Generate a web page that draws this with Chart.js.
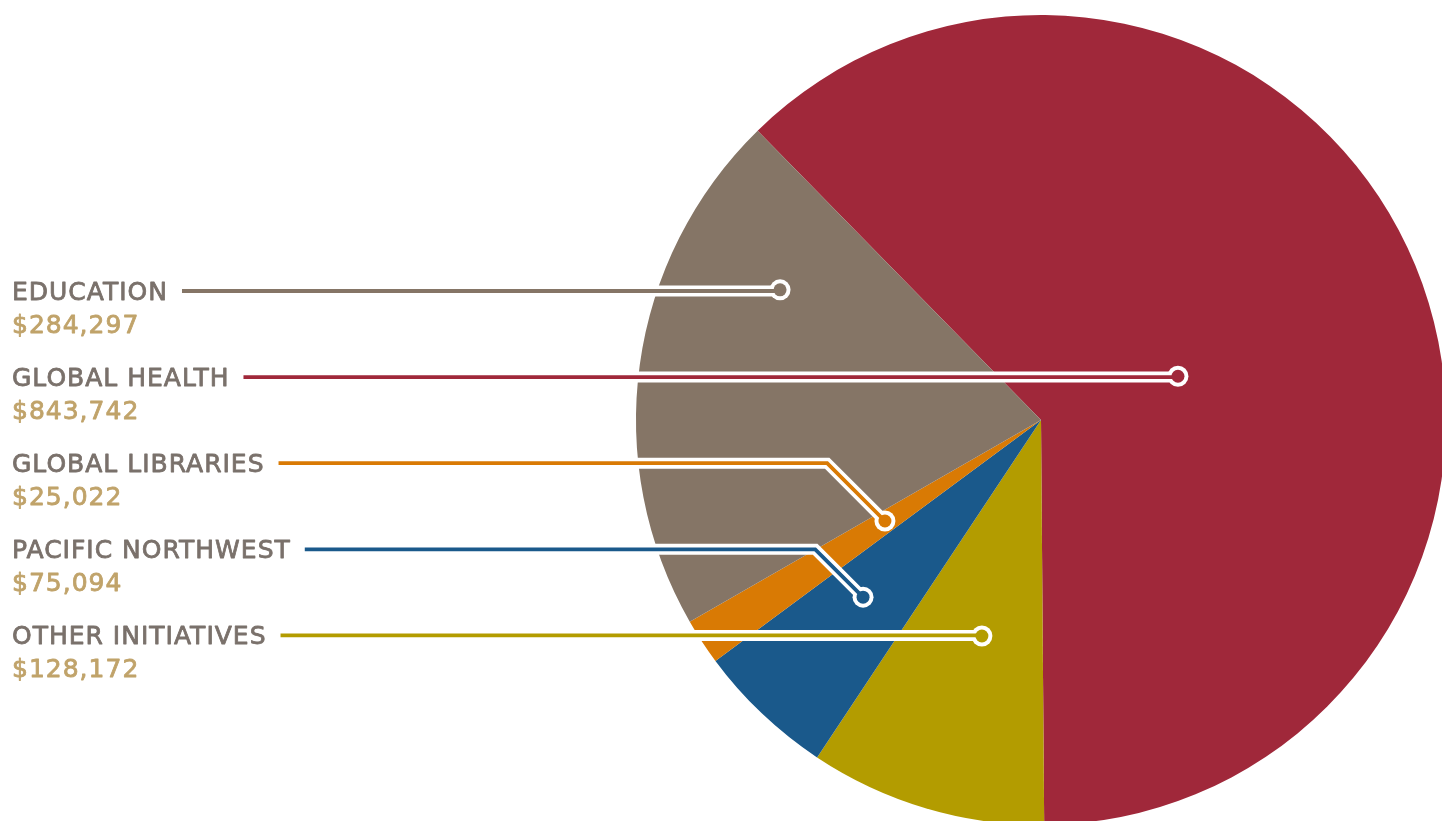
<!DOCTYPE html>
<html>
<head>
<meta charset="utf-8">
<script src="https://cdn.jsdelivr.net/npm/chart.js@4/dist/chart.umd.min.js"></script>
<style>
  html, body { margin: 0; padding: 0; background: #fff; overflow: hidden; }
  #grantsChart { display: block; }
</style>
</head>
<body>
<canvas id="grantsChart" width="1450" height="830"></canvas>
<script>
// slices in drawing order (clockwise from the top-left edge)
const categories = ["GLOBAL HEALTH", "OTHER INITIATIVES", "PACIFIC NORTHWEST", "GLOBAL LIBRARIES", "EDUCATION"];
const amounts = [843742, 128172, 75094, 25022, 284297];
// row of each category in the list on the left
const labelRow = [1, 4, 3, 2, 0];

const sliceColors = ["#a0283a", "#b39c00", "#1a598b", "#d97a04", "#857566"];
const labelColor = "#7a716b";
const valueColor = "#c0a36a";

// where each leader ends: fraction through the slice's sweep, fraction of radius
const leaderAnchors = [
  { sweep: 0.521, radius: 0.355 },
  { sweep: 0.463, radius: 0.553 },
  { sweep: 0.58, radius: 0.62 },
  { sweep: 0.54, radius: 0.459 },
  { sweep: 0.747, radius: 0.72 },
];

const leaderLabels = {
  id: "leaderLabels",
  afterDraw(chart) {
    const ctx = chart.ctx;
    const arcs = chart.getDatasetMeta(0).data;
    const font = '25px "DejaVu Sans", sans-serif';
    const firstBaseline = 300;
    const rowStep = 86.1;

    ctx.save();
    ctx.font = font;
    ctx.letterSpacing = "1px";
    ctx.textBaseline = "alphabetic";
    ctx.textAlign = "left";
    ctx.lineWidth = 0.8;
    ctx.lineJoin = "round";

    const leaders = categories.map((name, i) => {
      const arc = arcs[i];
      const a = arc.startAngle + leaderAnchors[i].sweep * (arc.endAngle - arc.startAngle);
      const r = leaderAnchors[i].radius * arc.outerRadius;
      const dot = { x: arc.x + r * Math.cos(a), y: arc.y + r * Math.sin(a) };
      const baseline = firstBaseline + labelRow[i] * rowStep;
      const lineY = baseline - 9;

      // a thin stroke gives the text a medium weight
      ctx.fillStyle = labelColor;
      ctx.strokeStyle = labelColor;
      ctx.fillText(name, 12, baseline);
      ctx.strokeText(name, 12, baseline);
      const textEnd = 12 + ctx.measureText(name).width;

      const amountText = "$" + amounts[i].toLocaleString("en-US");
      ctx.fillStyle = valueColor;
      ctx.strokeStyle = valueColor;
      ctx.fillText(amountText, 12, baseline + 33);
      ctx.strokeText(amountText, 12, baseline + 33);

      const bendX = dot.x - Math.abs(dot.y - lineY);
      return { start: { x: textEnd + 14, y: lineY }, bend: { x: bendX, y: lineY }, dot, color: sliceColors[i] };
    });

    ctx.lineJoin = "miter";
    ctx.lineCap = "butt";
    // white outline first
    leaders.forEach((l) => {
      ctx.strokeStyle = "#ffffff";
      ctx.lineWidth = 11;
      ctx.beginPath();
      ctx.moveTo(l.start.x, l.start.y);
      ctx.lineTo(l.bend.x, l.bend.y);
      ctx.lineTo(l.dot.x, l.dot.y);
      ctx.stroke();
      ctx.fillStyle = "#ffffff";
      ctx.beginPath();
      ctx.arc(l.dot.x, l.dot.y, 10.5, 0, Math.PI * 2);
      ctx.fill();
    });
    // coloured core
    leaders.forEach((l) => {
      ctx.strokeStyle = l.color;
      ctx.lineWidth = 3.8;
      ctx.beginPath();
      ctx.moveTo(l.start.x, l.start.y);
      ctx.lineTo(l.bend.x, l.bend.y);
      ctx.lineTo(l.dot.x, l.dot.y);
      ctx.stroke();
      ctx.fillStyle = l.color;
      ctx.beginPath();
      ctx.arc(l.dot.x, l.dot.y, 6.5, 0, Math.PI * 2);
      ctx.fill();
    });
    ctx.restore();
  },
};

new Chart(document.getElementById("grantsChart"), {
  type: "pie",
  data: {
    labels: categories,
    datasets: [
      {
        data: amounts,
        backgroundColor: sliceColors,
        borderWidth: 0,
      },
    ],
  },
  options: {
    responsive: false,
    animation: false,
    rotation: -44.4,
    layout: { padding: { left: 636, top: 15, right: 4, bottom: 5 } },
    plugins: {
      legend: { display: false },
      tooltip: { enabled: false },
    },
    events: [],
  },
  plugins: [leaderLabels],
});
</script>
</body>
</html>
